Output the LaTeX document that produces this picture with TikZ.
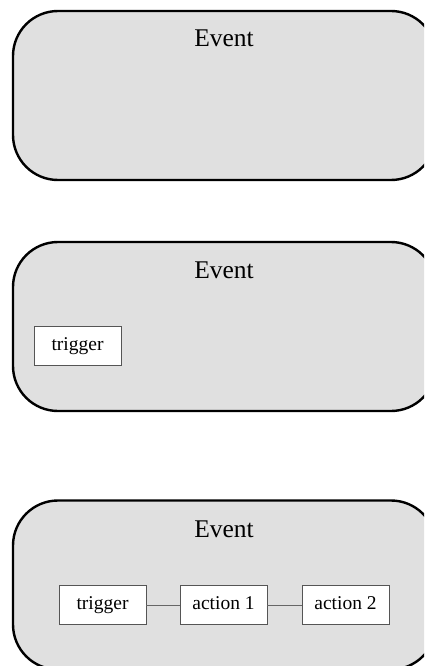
\documentclass[tikz,border=0pt]{standalone}
\usepackage{fontspec}
\setmainfont{Liberation Serif}
\definecolor{clfill}{HTML}{E0E0E0}
\definecolor{nodeline}{HTML}{555555}
\definecolor{edgecol}{HTML}{666666}
\tikzset{
  evbox/.style={draw=black, fill=clfill, line width=2.4pt, rounded corners=45pt,
    minimum width=423pt, minimum height=169pt, inner sep=0pt, outer sep=0pt},
  evlabel/.style={anchor=base, inner sep=0pt, font=\fontsize{25.5}{29}\selectfont},
  stepbox/.style={draw=nodeline, fill=white, line width=0.9pt, minimum width=87pt,
    minimum height=39pt, inner sep=0pt, text height=14pt, text depth=5pt,
    font=\fontsize{19.5}{23}\selectfont},
  edgeline/.style={draw=edgecol, line width=1pt}
}
\begin{document}
\begin{tikzpicture}[x=1pt,y=-1pt]
\useasboundingbox (0,0) rectangle (424,666);
\clip (0,0) rectangle (424,666);
% cluster 1
\node[evbox] (e1) at (224.5,95.5) {};
\node[evlabel] (l1) at (224,47) {Event};
% cluster 2
\node[evbox] (e2) at (224.5,326.5) {};
\node[evlabel] (l2) at (224,278) {Event};
\node[stepbox] (t2) at (77.5,345.5) {trigger};
% cluster 3
\node[evbox] (e3) at (224.5,585) {};
\node[evlabel] (l3) at (224,537) {Event};
\node[stepbox] (t3) at (102.5,605) {trigger};
\node[stepbox] (a1) at (223.5,605) {action 1};
\node[stepbox] (a2) at (345.5,605) {action 2};
\draw[edgeline] (t3) -- (a1);
\draw[edgeline] (a1) -- (a2);
\end{tikzpicture}
\end{document}
